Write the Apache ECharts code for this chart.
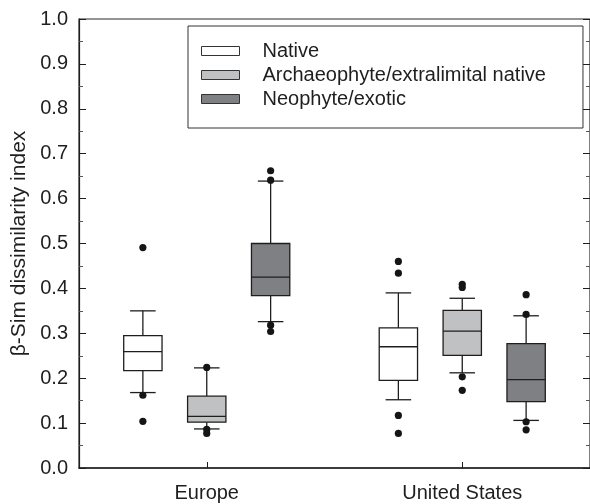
<!DOCTYPE html>
<html>
<head>
<meta charset="utf-8">
<script src="https://cdn.jsdelivr.net/npm/echarts@6/dist/echarts.min.js"></script>
<style>
html,body{margin:0;padding:0;background:#fff;}
#chart{width:590px;height:504px;}
</style>
</head>
<body>
<div id="chart"></div>
<script>
// ---- data ----
var categories = ['Europe', 'United States'];
var classes = ['Native', 'Archaeophyte/extralimital native', 'Neophyte/exotic'];
var yTicks = [0, 0.1, 0.2, 0.3, 0.4, 0.5, 0.6, 0.7, 0.8, 0.9, 1.0];

// [lower whisker, Q1, median, Q3, upper whisker] per category
var nativeBox   = [[0.168, 0.217, 0.259, 0.295, 0.350], [0.152, 0.195, 0.270, 0.312, 0.390]];
var archaeoBox  = [[0.087, 0.102, 0.115, 0.160, 0.223], [0.212, 0.251, 0.305, 0.351, 0.378]];
var neoBox      = [[0.326, 0.384, 0.425, 0.500, 0.639], [0.106, 0.148, 0.197, 0.277, 0.339]];

// outliers per category
var nativeOut   = [[0.491, 0.162, 0.104], [0.460, 0.434, 0.117, 0.077]];
var archaeoOut  = [[0.224, 0.086, 0.077], [0.409, 0.402, 0.203, 0.173]];
var neoOut      = [[0.662, 0.641, 0.318, 0.304], [0.386, 0.342, 0.103, 0.085]];

var fills = ['#ffffff', '#c0c1c3', '#7f8083'];
var FONT = '"Liberation Sans", Arial, Helvetica, sans-serif';

var boxes = [nativeBox, archaeoBox, neoBox];
var outs = [nativeOut, archaeoOut, neoOut];

function boxRenderer(k) {
  return function (params, api) {
    var ci = api.value(0);
    var band = api.size([1, 0])[0];
    var off = (k - 1) * band * 0.25;
    var x = api.coord([ci, 0])[0] + off;
    var hw = band * 0.075, cw = band * 0.05;
    var yLo = api.coord([ci, api.value(1)])[1];
    var yQ1 = api.coord([ci, api.value(2)])[1];
    var yMd = api.coord([ci, api.value(3)])[1];
    var yQ3 = api.coord([ci, api.value(4)])[1];
    var yHi = api.coord([ci, api.value(5)])[1];
    var ls = {stroke: '#1e1e1e', lineWidth: 1.3};
    return {
      type: 'group',
      children: [
        {type: 'line', shape: {x1: x, y1: yHi, x2: x, y2: yQ3}, style: ls},
        {type: 'line', shape: {x1: x, y1: yQ1, x2: x, y2: yLo}, style: ls},
        {type: 'line', shape: {x1: x - cw, y1: yHi, x2: x + cw, y2: yHi}, style: ls},
        {type: 'line', shape: {x1: x - cw, y1: yLo, x2: x + cw, y2: yLo}, style: ls},
        {type: 'rect', shape: {x: x - hw, y: yQ3, width: 2 * hw, height: yQ1 - yQ3},
          style: {fill: fills[k], stroke: '#1e1e1e', lineWidth: 1.3}},
        {type: 'line', shape: {x1: x - hw, y1: yMd, x2: x + hw, y2: yMd}, style: ls}
      ]
    };
  };
}
function outRenderer(k) {
  return function (params, api) {
    var ci = api.value(0);
    var band = api.size([1, 0])[0];
    var off = (k - 1) * band * 0.25;
    var p = api.coord([ci, api.value(1)]);
    return {type: 'circle', shape: {cx: p[0] + off, cy: p[1], r: 3.6}, style: {fill: '#151515'}};
  };
}

var series = [];
classes.forEach(function (name, k) {
  series.push({
    type: 'custom', name: name, renderItem: boxRenderer(k),
    encode: {x: 0, y: [1, 2, 3, 4, 5]},
    data: boxes[k].map(function (b, i) { return [i].concat(b); }),
    z: 2
  });
  var od = [];
  outs[k].forEach(function (arr, i) { arr.forEach(function (v) { od.push([i, v]); }); });
  series.push({
    type: 'custom', name: name, renderItem: outRenderer(k),
    encode: {x: 0, y: 1}, data: od, z: 3
  });
});

var chart = echarts.init(document.getElementById('chart'), null, {renderer: 'canvas'});
chart.setOption({
  animation: false,
  backgroundColor: '#fff',
  textStyle: {fontFamily: FONT},
  grid: {left: 79, top: 19, right: -3, bottom: 36, show: true, borderColor: '#2a2a2a', borderWidth: 1.2},
  legend: {
    orient: 'vertical', left: 188, top: 26,
    padding: [15, 37, 19, 13], itemGap: 4,
    itemWidth: 38, itemHeight: 9, icon: 'rect',
    borderColor: '#333', borderWidth: 1,
    selectedMode: false,
    textStyle: {fontSize: 20, color: '#1e1e1e', fontFamily: FONT, padding: [0, 0, 0, 18]},
    data: classes.map(function (n, k) {
      return {name: n, itemStyle: {color: fills[k], borderColor: '#333', borderWidth: 1}};
    })
  },
  xAxis: {
    type: 'category', data: categories,
    axisLine: {show: true, lineStyle: {color: '#1e1e1e', width: 1.5}},
    axisTick: {show: true, inside: true, alignWithLabel: true, length: 6, lineStyle: {color: '#1e1e1e'}},
    axisLabel: {fontSize: 20, color: '#1e1e1e', margin: 15, fontFamily: FONT},
    splitLine: {show: false}
  },
  yAxis: [{
    type: 'value', min: 0, max: 1, interval: 0.1,
    name: 'β-Sim dissimilarity index', nameLocation: 'middle', nameGap: 46,
    nameTextStyle: {fontSize: 21, color: '#1e1e1e', fontFamily: FONT},
    axisLine: {show: true, lineStyle: {color: '#1e1e1e', width: 1.2}},
    axisTick: {show: true, inside: true, length: 7, lineStyle: {color: '#1e1e1e'}},
    minorTick: {show: true, splitNumber: 2, length: 4, lineStyle: {color: '#555'}},
    axisLabel: {fontSize: 20, color: '#1e1e1e', margin: 11, fontFamily: FONT,
      formatter: function (v) { var t = yTicks.filter(function (q) { return Math.abs(q - v) < 1e-9; }); return t.length ? t[0].toFixed(1) : ''; }},
    splitLine: {show: false}
  }, {
    type: 'value', min: 0, max: 1, interval: 0.1, position: 'right',
    axisLine: {show: true, lineStyle: {color: '#1e1e1e'}},
    axisTick: {show: true, inside: true, length: 7, lineStyle: {color: '#1e1e1e'}},
    minorTick: {show: true, splitNumber: 2, length: 4, lineStyle: {color: '#555'}},
    axisLabel: {show: false},
    splitLine: {show: false}
  }],
  series: series
});
</script>
</body>
</html>
